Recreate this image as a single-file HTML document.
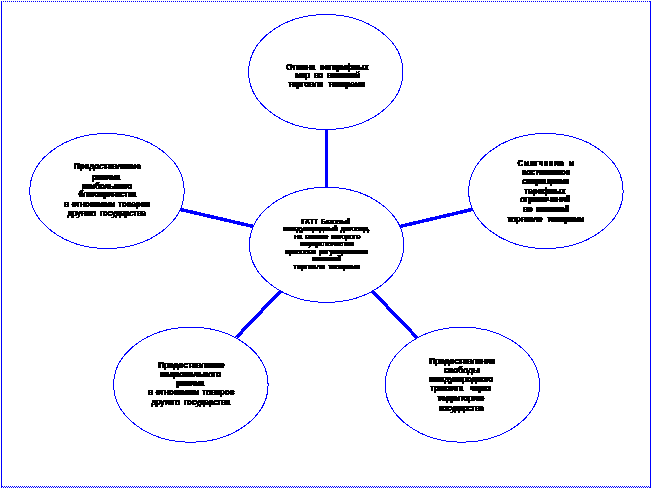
<!DOCTYPE html>
<html lang="ru">
<head>
<meta charset="utf-8">
<title>ГАТТ</title>
<style>
html,body{margin:0;padding:0;background:#fff;}
body{width:651px;height:488px;position:relative;overflow:hidden;font-family:"Liberation Sans",sans-serif;}
svg{position:absolute;left:0;top:0;}
#txt{position:absolute;left:0;top:0;width:651px;height:488px;filter:url(#thr);}
.t{position:absolute;width:200px;height:12px;line-height:12px;text-align:center;font-weight:bold;color:#000;white-space:nowrap;font-size:8px;-webkit-text-stroke:0.1px #000;text-shadow:0.3px 0 0 #000;transform:scaleY(1.1);transform-origin:50% 50%;}
.c{font-size:6.6px;transform:scaleY(0.95);-webkit-text-stroke:0.2px #000;}
</style>
</head>
<body>
<svg width="651" height="488" viewBox="0 0 651 488">
  <defs>
    <filter id="thr" x="0" y="0" width="100%" height="100%" color-interpolation-filters="sRGB">
      <feComponentTransfer><feFuncA type="discrete" tableValues="0 1 1 1 1 1 1 1"/></feComponentTransfer>
    </filter>
  </defs>
  <g fill="none" stroke="#0000ff" stroke-width="1" shape-rendering="crispEdges">
    <line x1="1.5" y1="1" x2="1.5" y2="488"/>
    <line x1="650.5" y1="1" x2="650.5" y2="488"/>
    <line x1="3" y1="1.5" x2="651" y2="1.5" stroke-dasharray="1 1"/>
    <line x1="2" y1="486.5" x2="651" y2="486.5" stroke-dasharray="1 1"/>
    <line x1="3" y1="487.5" x2="651" y2="487.5" stroke-dasharray="1 1"/>
  </g>
  <g fill="none" stroke="#0000ff" stroke-width="3.5" shape-rendering="crispEdges">
    <line x1="326.4" y1="129" x2="326.4" y2="188"/>
    <line x1="180.5" y1="209.5" x2="253.5" y2="226.5"/>
    <line x1="473.2" y1="209.2" x2="399.5" y2="226.6"/>
    <line x1="280.3" y1="291.3" x2="236.4" y2="337.4"/>
    <line x1="372.2" y1="291.1" x2="417" y2="337.7"/>
  </g>
  <g fill="#fff" stroke="#0000ff" stroke-width="1" shape-rendering="crispEdges">
    <ellipse cx="325.8" cy="72.0" rx="77.2" ry="57.5"/>
    <ellipse cx="326.6" cy="244.8" rx="77.2" ry="57.5"/>
    <ellipse cx="107" cy="191" rx="77.2" ry="57.5"/>
    <ellipse cx="545.9" cy="191" rx="77.2" ry="57.5"/>
    <ellipse cx="190.9" cy="384.7" rx="77.2" ry="57.5"/>
    <ellipse cx="462.4" cy="384.7" rx="77.2" ry="57.5"/>
  </g>
</svg>
<div id="txt">
<div class="t" style="left:227.24px;top:61.54px;letter-spacing:-0.169px;word-spacing:2.4px;">Отмена нетарифных</div>
<div class="t" style="left:227.45px;top:70.44px;letter-spacing:-0.360px;word-spacing:2.4px;">мер во внешней</div>
<div class="t" style="left:226.47px;top:79.44px;letter-spacing:-0.068px;word-spacing:2.4px;">торговле товарами</div>
<div class="t c" style="left:226.01px;top:215.86px;letter-spacing:0.033px;word-spacing:1.4px;">ГАТТ Базовый</div>
<div class="t c" style="left:226.18px;top:223.26px;letter-spacing:-0.026px;word-spacing:1.4px;">международный договор,</div>
<div class="t c" style="left:227.29px;top:230.56px;letter-spacing:-0.032px;word-spacing:1.4px;">на основе которого</div>
<div class="t c" style="left:226.95px;top:238.36px;letter-spacing:0.014px;word-spacing:1.4px;">осуществляется</div>
<div class="t c" style="left:226.39px;top:245.56px;letter-spacing:-0.077px;word-spacing:1.4px;">правовое регулирование</div>
<div class="t c" style="left:226.45px;top:253.16px;letter-spacing:0.030px;word-spacing:1.4px;">внешней</div>
<div class="t c" style="left:226.92px;top:261.36px;letter-spacing:0.090px;word-spacing:1.4px;">торговли товарами</div>
<div class="t" style="left:7.27px;top:161.44px;letter-spacing:0.055px;word-spacing:2.4px;">Предоставление</div>
<div class="t" style="left:5.81px;top:171.54px;letter-spacing:-0.360px;word-spacing:2.4px;">режима</div>
<div class="t" style="left:6.69px;top:180.74px;letter-spacing:-0.234px;word-spacing:2.4px;">наибольшего</div>
<div class="t" style="left:7.17px;top:189.44px;letter-spacing:-0.415px;word-spacing:2.4px;">благоприятства</div>
<div class="t" style="left:6.83px;top:198.84px;letter-spacing:-0.080px;word-spacing:0.9px;">в отношении товаров</div>
<div class="t" style="left:6.27px;top:208.14px;letter-spacing:-0.310px;word-spacing:2.4px;">другого государства</div>
<div class="t" style="left:445.83px;top:157.74px;letter-spacing:0.396px;word-spacing:2.4px;">Смягчение и</div>
<div class="t" style="left:445.57px;top:166.74px;letter-spacing:-0.234px;word-spacing:2.4px;">постепенное</div>
<div class="t" style="left:445.64px;top:176.04px;letter-spacing:-0.100px;word-spacing:2.4px;">сокращение</div>
<div class="t" style="left:444.79px;top:185.64px;letter-spacing:-0.026px;word-spacing:2.4px;">тарифных</div>
<div class="t" style="left:445.21px;top:194.44px;letter-spacing:-0.072px;word-spacing:2.4px;">ограничений</div>
<div class="t" style="left:445.97px;top:203.84px;letter-spacing:-0.320px;word-spacing:2.4px;">во внешней</div>
<div class="t" style="left:445.55px;top:213.54px;letter-spacing:-0.135px;word-spacing:2.4px;">торговле товарами</div>
<div class="t" style="left:91.37px;top:359.74px;letter-spacing:0.000px;word-spacing:2.4px;">Предоставление</div>
<div class="t" style="left:90.61px;top:369.44px;letter-spacing:-0.030px;word-spacing:2.4px;">национального</div>
<div class="t" style="left:89.98px;top:378.44px;letter-spacing:-0.396px;word-spacing:2.4px;">режима</div>
<div class="t" style="left:91.02px;top:387.44px;letter-spacing:-0.070px;word-spacing:0.9px;">в отношении товаров</div>
<div class="t" style="left:90.29px;top:396.74px;letter-spacing:-0.270px;word-spacing:2.4px;">другого государства</div>
<div class="t" style="left:362.24px;top:355.54px;letter-spacing:-0.028px;word-spacing:2.4px;">Предоставление</div>
<div class="t" style="left:361.75px;top:364.74px;letter-spacing:0.000px;word-spacing:2.4px;">свободы</div>
<div class="t" style="left:360.93px;top:373.74px;letter-spacing:-0.235px;word-spacing:2.4px;">международного</div>
<div class="t" style="left:360.43px;top:383.14px;letter-spacing:-0.332px;word-spacing:5.0px;">транзита через</div>
<div class="t" style="left:360.84px;top:392.84px;letter-spacing:-0.180px;word-spacing:2.4px;">территорию</div>
<div class="t" style="left:361.22px;top:402.54px;letter-spacing:-0.450px;word-spacing:2.4px;">государства</div>
</div>
</body>
</html>
